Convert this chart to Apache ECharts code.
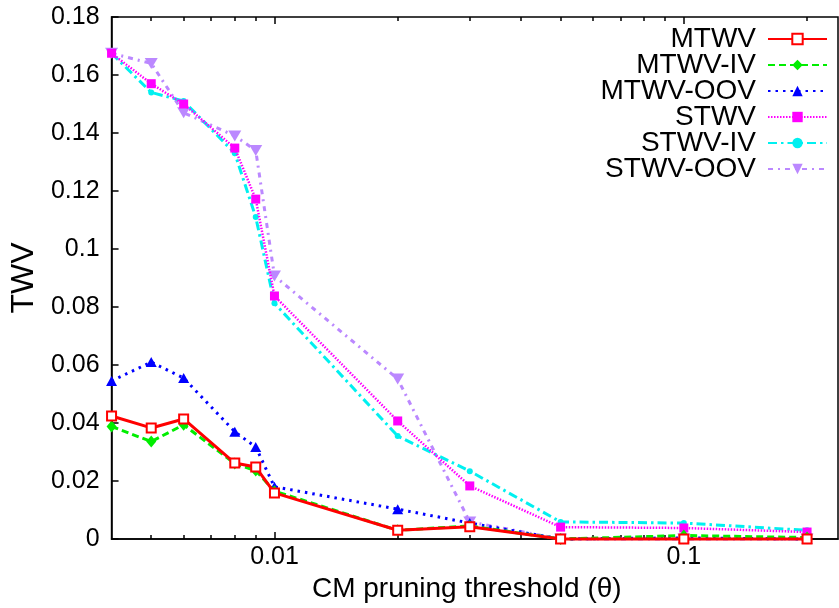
<!DOCTYPE html>
<html>
<head>
<meta charset="utf-8">
<script src="https://cdn.jsdelivr.net/npm/echarts@6/dist/echarts.min.js"></script>
<style>html,body{margin:0;padding:0;background:#fff}#c{width:839px;height:608px}</style>
</head>
<body>
<div id="c"></div>
<script>
const thresholds = [0.004, 0.005, 0.006, 0.008, 0.009, 0.01, 0.02, 0.03, 0.05, 0.1, 0.2];
const mtwv    = [0.0424, 0.0383, 0.0414, 0.0262, 0.0248, 0.0159, 0.0030, 0.0042, 0.0000, 0.0000, 0.0000];
const mtwvIV  = [0.0388, 0.0336, 0.0394, 0.0260, 0.0236, 0.0165, 0.0030, 0.0045, 0.0000, 0.0012, 0.0005];
const mtwvOOV = [0.0545, 0.0610, 0.0555, 0.0370, 0.0317, 0.0180, 0.0103, 0.0055, 0.0000, 0.0004, 0.0000];
const stwv    = [0.1675, 0.1570, 0.1500, 0.1348, 0.1172, 0.0838, 0.0407, 0.0183, 0.0041, 0.0038, 0.0024];
const stwvIV  = [0.1675, 0.1540, 0.1510, 0.1330, 0.1110, 0.0813, 0.0355, 0.0234, 0.0059, 0.0055, 0.0030];
const stwvOOV = [0.1675, 0.1640, 0.1470, 0.1390, 0.1340, 0.0907, 0.0552, 0.0059, 0.0000, 0.0000, 0.0000];
const seriesNames = ['MTWV', 'MTWV-IV', 'MTWV-OOV', 'STWV', 'STWV-IV', 'STWV-OOV'];
const majorTicks = [0.01, 0.1];
const minorTicks = [0.005, 0.006, 0.007, 0.008, 0.009, 0.02, 0.03, 0.04, 0.05, 0.06, 0.07, 0.08, 0.09, 0.2];
const yTicks = { min: 0, max: 0.18, step: 0.02 };

const FONT = '"Liberation Sans", Arial, Helvetica, sans-serif';
const xMin = 0.004, xMax = 0.238;
const pair = vals => thresholds.map((t, i) => [t, vals[i]]);

function xAx(pos, ticks, len, withLabel) {
  const a = {
    type: 'log', logBase: 10, min: xMin, max: xMax, position: pos,
    axisLine: { show: withLabel, lineStyle: { color: '#000', width: 1.5 } },
    axisTick: { show: true, inside: true, length: len, customValues: ticks, lineStyle: { color: '#000', width: 1.5 } },
    axisLabel: { show: false },
    splitLine: { show: false }, minorTick: { show: false }
  };
  if (withLabel && pos === 'bottom') {
    a.axisLabel = { show: true, customValues: majorTicks, fontSize: 25, fontFamily: FONT, color: '#000', margin: 6,
      formatter: v => String(+v.toPrecision(6)) };
    a.name = 'CM pruning threshold (\u03b8)';
    a.nameLocation = 'middle';
    a.nameGap = 35;
    a.nameTextStyle = { fontSize: 28, fontFamily: FONT, color: '#000', padding: [0, 16, 0, 0] };
  }
  return a;
}

const styles = [
  { color: '#ff0000', type: 'solid', symbol: 'emptyRect', size: 9 },
  { color: '#00ee00', type: [7, 4], symbol: 'diamond', size: [10, 12] },
  { color: '#0000ff', type: [2.5, 5], symbol: 'triangle', size: [11, 10] },
  { color: '#ff00ff', type: [1.5, 1.5], symbol: 'rect', size: 9 },
  { color: '#00f0f0', type: [9, 4, 2.5, 4], symbol: 'circle', size: 6 },
  { color: '#bb88ff', type: [5, 5, 2, 5], symbol: 'triangle', size: [13, 11], rotate: 180 }
];
const datasets = [mtwv, mtwvIV, mtwvOOV, stwv, stwvIV, stwvOOV];

const series = datasets.map((d, i) => {
  const s = styles[i];
  return {
    name: seriesNames[i], type: 'line', xAxisIndex: 0, yAxisIndex: 0,
    data: pair(d), symbol: s.symbol, symbolSize: s.size, symbolRotate: s.rotate || 0,
    showAllSymbol: true, clip: false,
    lineStyle: { color: s.color, width: i === 3 ? 2.5 : 3, type: s.type },
    itemStyle: { color: s.color, borderColor: s.color, borderWidth: i === 0 ? 2 : 0 },
    emphasis: { disabled: true }, animation: false, z: 10 - i
  };
});

const chart = echarts.init(document.getElementById('c'), null, { renderer: 'canvas' });
chart.setOption({
  animation: false,
  backgroundColor: '#fff',
  grid: { left: 106, right: 1, top: 17, bottom: 69, show: true, borderColor: '#000', borderWidth: 1.5, containLabel: false },
  legend: {
    data: seriesNames, orient: 'vertical', right: 6, top: 20, align: 'right',
    itemWidth: 59, itemHeight: 13, itemGap: -2,
    textStyle: { fontSize: 28, fontFamily: FONT, color: '#000', padding: [0, 7, 0, 0] },
    selectedMode: false
  },
  xAxis: [
    xAx('bottom', majorTicks, 7, true),
    xAx('bottom', minorTicks, 4, false),
    xAx('top', majorTicks, 7, false),
    xAx('top', minorTicks, 4, false)
  ],
  yAxis: [{
    type: 'value', min: yTicks.min, max: yTicks.max, interval: yTicks.step,
    axisLine: { show: true, lineStyle: { color: '#000', width: 1.5 } },
    axisTick: { show: true, inside: true, length: 7, lineStyle: { color: '#000', width: 1.5 } },
    axisLabel: { fontSize: 25, fontFamily: FONT, color: '#000', margin: 12 },
    splitLine: { show: false },
    name: 'TWV', nameLocation: 'middle', nameGap: 66,
    nameTextStyle: { fontSize: 32, fontFamily: FONT, color: '#000' }
  }],
  series: series
});
</script>
</body>
</html>
